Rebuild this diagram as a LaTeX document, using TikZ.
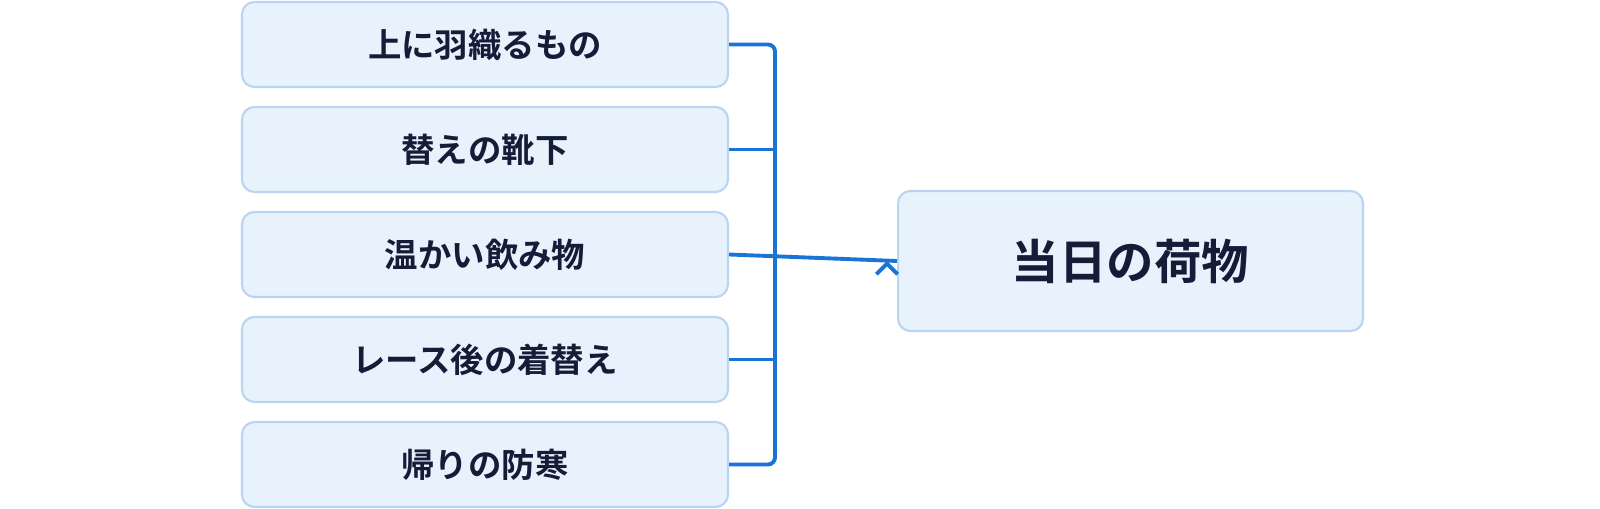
\documentclass[tikz,border=0pt]{standalone}
\usepackage{fontspec}
\newfontfamily\cjk{Noto Sans CJK JP}[BoldFont={* Bold}]
\usetikzlibrary{arrows.meta}
\definecolor{boxfill}{HTML}{E8F2FC}
\definecolor{boxline}{HTML}{B9D5F1}
\definecolor{inkdark}{HTML}{141C38}
\definecolor{busblue}{HTML}{1A74D6}
\tikzset{
  item/.style={draw=boxline,line width=1.2pt,fill=boxfill,rounded corners=7pt,
    minimum width=9.72cm,minimum height=1.7cm,text=inkdark,
    font=\cjk\bfseries\fontsize{19}{22}\selectfont},
  goal/.style={item,minimum width=9.3cm,minimum height=2.8cm,
    font=\cjk\bfseries\fontsize{27}{32}\selectfont},
  bus/.style={busblue,line width=2.2pt}
}
\begin{document}
\begin{tikzpicture}[x=0.02cm,y=-0.02cm]
  \useasboundingbox[fill=white] (0,0) rectangle (1600,509);
  \foreach \t [count=\i] in {上に羽織るもの,替えの靴下,温かい飲み物,レース後の着替え,帰りの防寒}
    \node[item] (i\i) at (485,{44.5+105*(\i-1)}) {\t};
  \node[goal] (goal) at (1130.5,261) {当日の荷物};
  \coordinate (top) at (775,44.5);
  \coordinate (bot) at (775,464.5);
  \draw[bus,rounded corners=4pt] (i1.east) -- (top) -- (bot) -- (i5.east);
  \foreach \i in {2,4}
    \draw[bus] (i\i.east) -- (i\i.east -| top);
  \draw[bus,-{Straight Barb[length=6pt,width=12pt]}] (i3.east) -- (goal.west) ++(-10,0);
\end{tikzpicture}
\end{document}
